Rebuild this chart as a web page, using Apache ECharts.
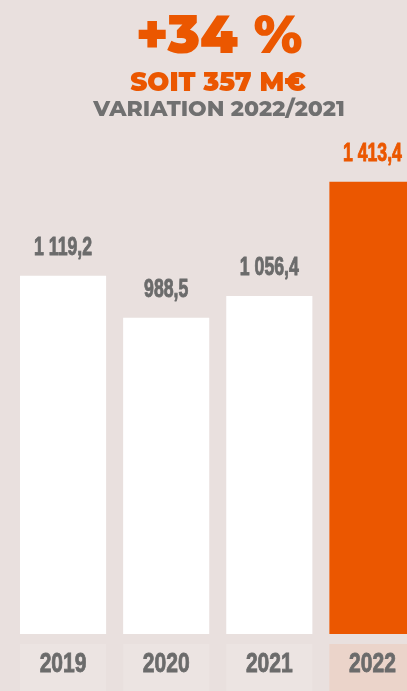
<!DOCTYPE html>
<html><head><meta charset="utf-8">
<script src="https://cdn.jsdelivr.net/npm/echarts@6/dist/echarts.min.js"></script>
<style>html,body{margin:0;padding:0;background:#e9e0de;overflow:hidden;width:407px;height:691px;}#c{width:424px;height:691px;}</style>
</head><body><div id="c"></div>
<script>
const categories = ['2019', '2020', '2021', '2022'];
const values = [1119.2, 988.5, 1056.4, 1413.4];
const valueLabels = ['1 119,2', '988,5', '1 056,4', '1 413,4'];
const headline = '+34 %';
const subline = 'SOIT 357 M€';
const caption = 'VARIATION 2022/2021';

const ORANGE = '#eb5700';
const GRAY = '#6b6b6b';
const numFont = '"Liberation Sans", Arial, sans-serif';
const heavy = 'Montserrat, Inter, "Open Sans", sans-serif';

const chart = echarts.init(document.getElementById('c'));
chart.setOption({
  backgroundColor: '#e9e0de',
  animation: false,
  graphic: [
    { type: 'text', x: 219, y: 37, style: { text: headline, fill: ORANGE, font: '900 53px ' + heavy, align: 'center', verticalAlign: 'middle' } },
    { type: 'text', x: 218, y: 83, style: { text: subline, fill: ORANGE, font: '900 26px ' + heavy, align: 'center', verticalAlign: 'middle' } },
    { type: 'text', x: 219, y: 110, style: { text: caption, fill: '#707070', font: '800 22px ' + heavy, align: 'center', verticalAlign: 'middle' } }
  ],
  grid: { left: 11.5, right: 0, top: 122, bottom: 57, containLabel: false },
  xAxis: {
    type: 'category',
    data: categories,
    axisLine: { show: false }, axisTick: { show: false }, axisLabel: { show: false }
  },
  yAxis: { type: 'value', min: 0, max: 1600, show: false, splitLine: { show: false } },
  series: [{
    type: 'bar',
    data: values.map((v, i) => ({ value: v, itemStyle: { color: i === 3 ? ORANGE : '#ffffff' } })),
    barCategoryGap: '16.5%'
  }, {
    type: 'custom',
    clip: false,
    silent: true,
    data: values.map((v, i) => [i, v]),
    renderItem: function (params, api) {
      const i = api.value(0);
      const top = api.coord([i, api.value(1)]);
      const base = api.coord([i, 0]);
      const w = api.size([1, 0])[0] * 0.835;
      const hl = i === 3;
      const lc = hl ? ORANGE : GRAY;
      return {
        type: 'group',
        children: [
          { type: 'rect', shape: { x: base[0] - w / 2, y: base[1] + 10, width: w, height: 60 },
            style: { fill: hl ? '#ebd4ca' : '#ece4e2' } },
          { type: 'text', x: base[0], y: base[1] + 31, scaleX: 0.78,
            style: { text: categories[i], fill: GRAY, stroke: GRAY, lineWidth: 0.8, font: 'bold 27px ' + numFont, align: 'center', verticalAlign: 'middle' } },
          { type: 'text', x: top[0], y: top[1] - 28, scaleX: 0.68,
            style: { text: valueLabels[i], fill: lc, stroke: lc, lineWidth: 0.9, font: 'bold 26px ' + numFont, align: 'center', verticalAlign: 'middle' } }
        ]
      };
    }
  }]
});
</script></body></html>
